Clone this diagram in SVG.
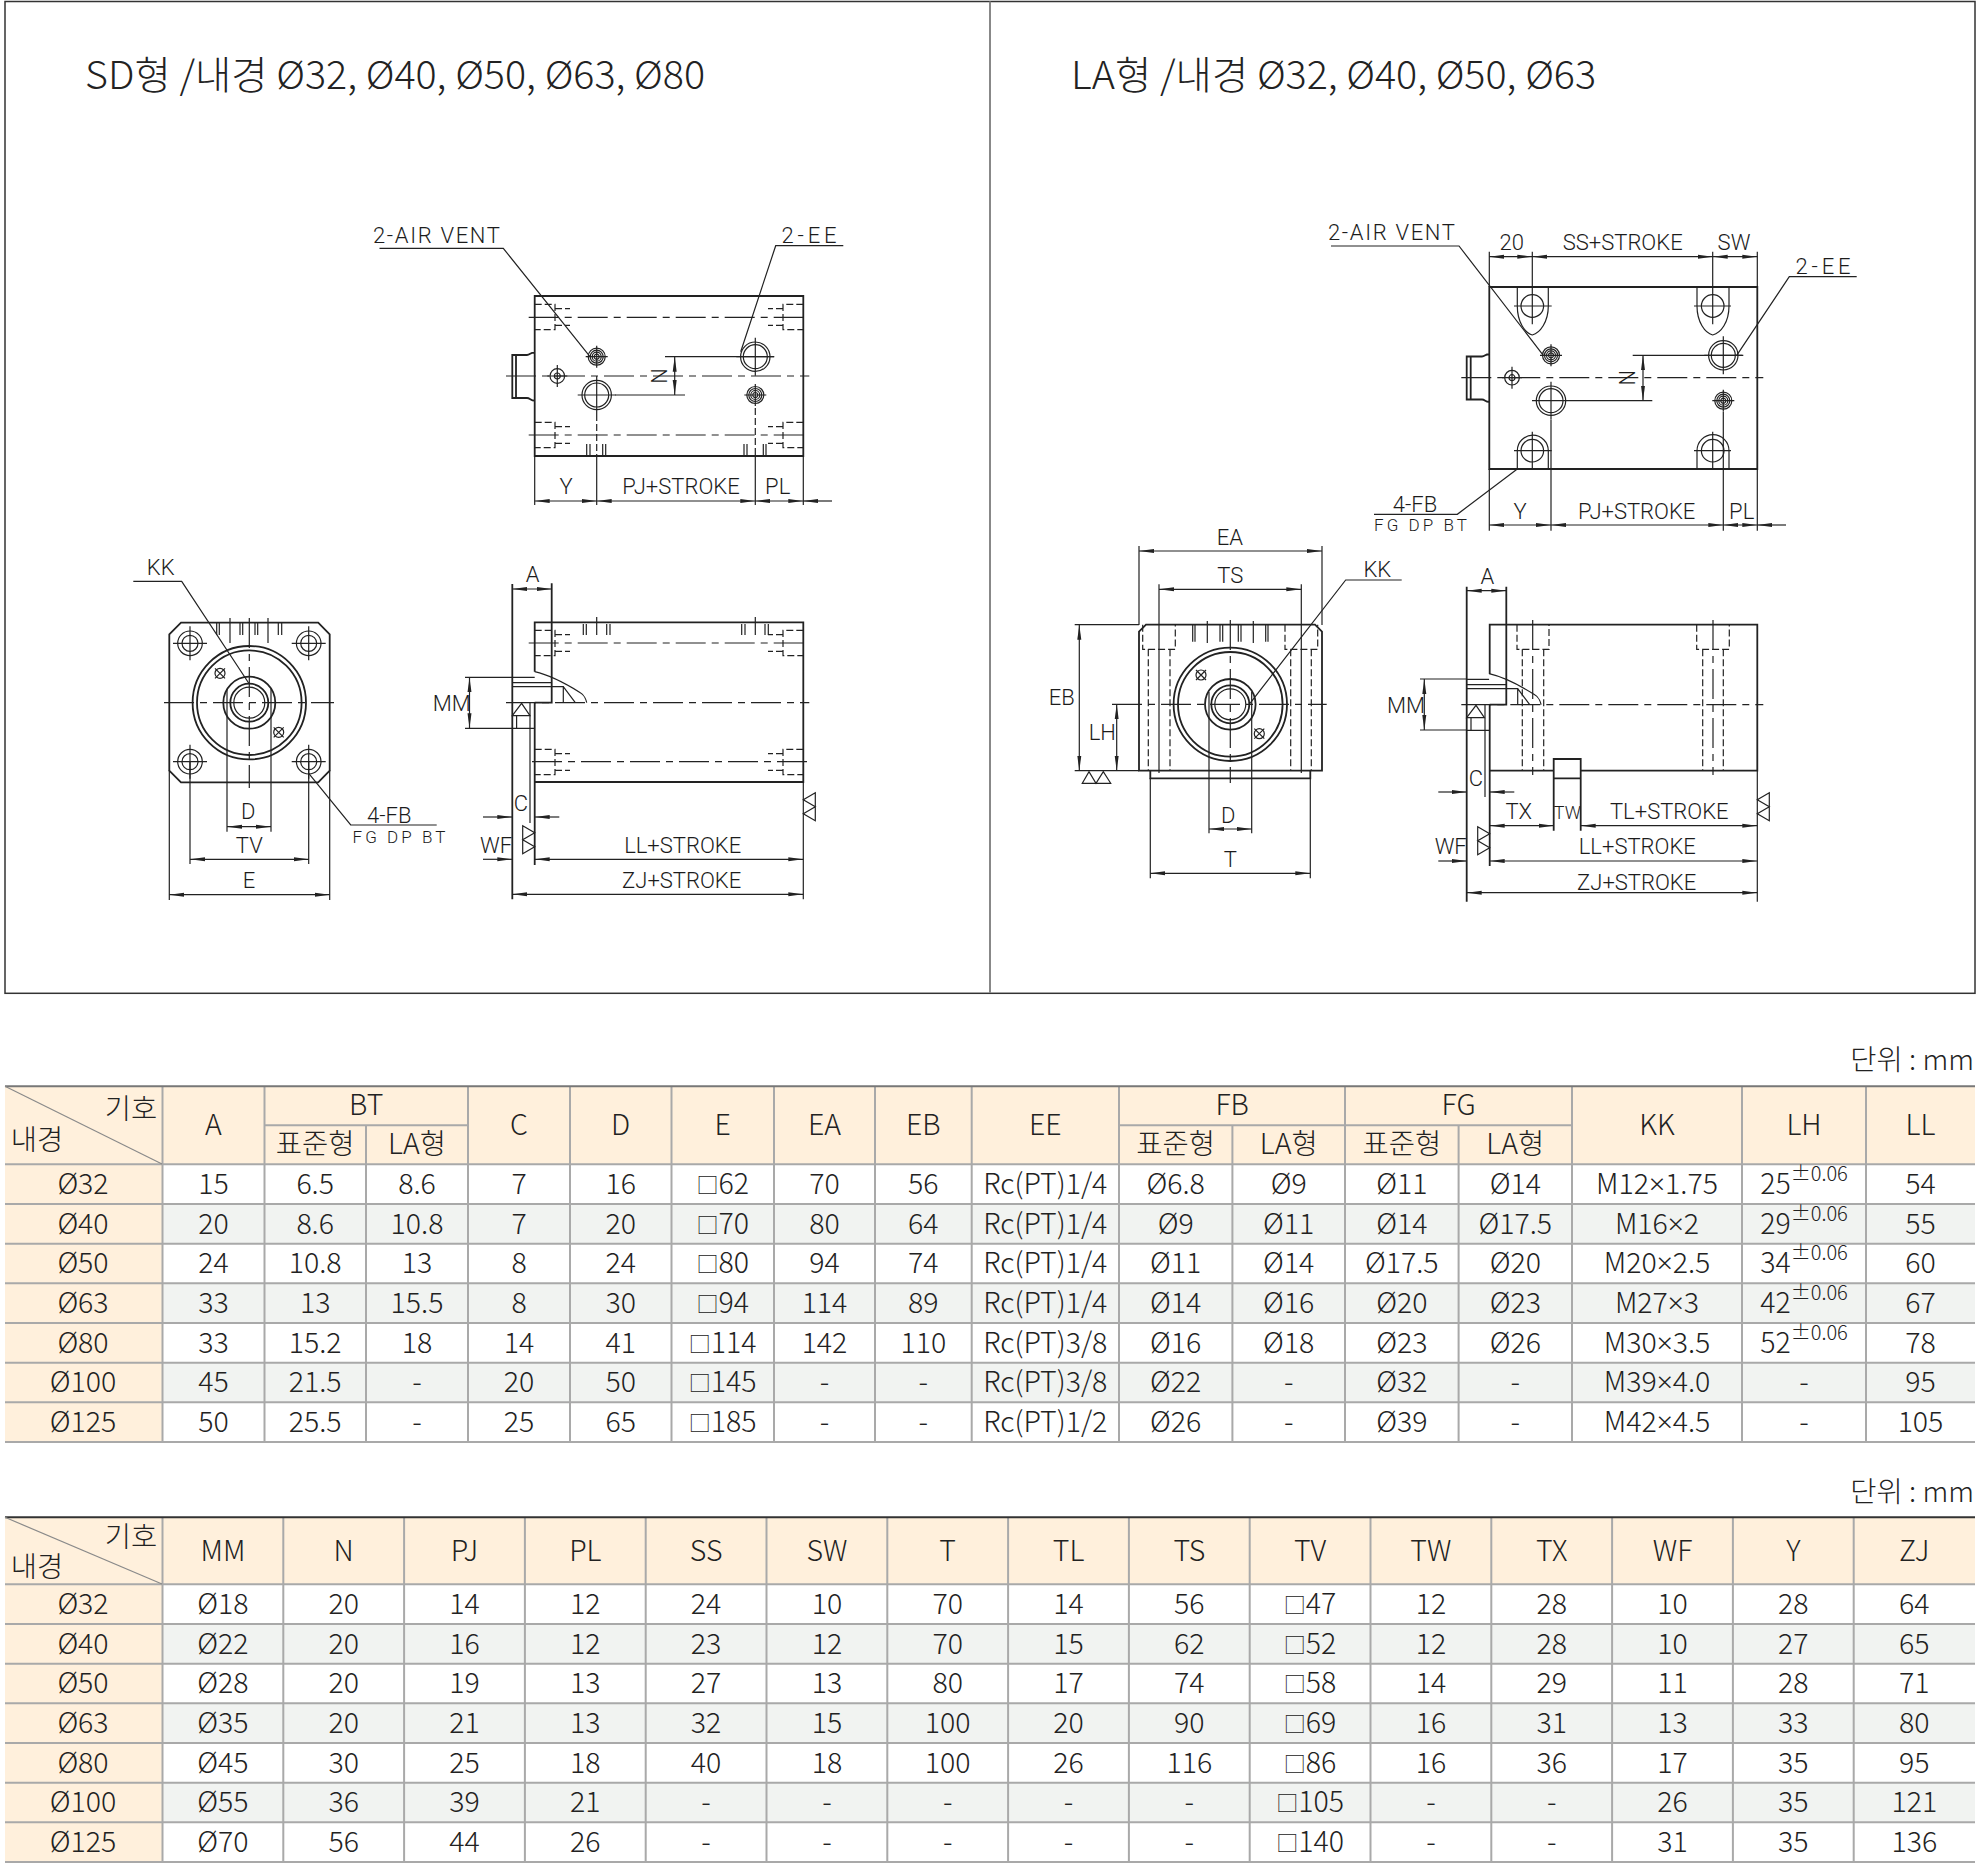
<svg xmlns="http://www.w3.org/2000/svg" width="1980" height="1867" viewBox="0 0 1980 1867">
<style>
text{font-family:"Noto Sans CJK KR","Noto Sans",sans-serif;fill:#222;font-weight:300}
.cad text,text.cad{font-family:Roboto,"Liberation Sans",sans-serif;font-size:22px;text-anchor:middle;fill:#1c1c1c;font-weight:300}
.tb text{font-size:28.5px;text-anchor:middle}
.sup{font-size:20px}
.x{font-family:"Noto Sans",sans-serif;font-size:28px}
.b{font-size:22px;baseline-shift:1px}
.cad path,.cad line,.cad circle,.sym path,.sym circle{fill:none;stroke:#222;stroke-width:1.2}
.o{stroke-width:1.8!important}
.d{stroke-dasharray:7 3}
.c{stroke-dasharray:30 6 7 6}
.arr{marker-start:url(#a);marker-end:url(#a)}
.arr1{marker-end:url(#a)}
.g{fill:none;stroke:#a9a9a9;stroke-width:2}
.hd{fill:#fff0dc}
.alt{fill:#f1f3f1}
.frame{fill:none;stroke:#333;stroke-width:1.5}
</style>
<defs>
<marker id="a" viewBox="0 0 15 6" refX="15" refY="3" markerWidth="15" markerHeight="6" markerUnits="userSpaceOnUse" orient="auto-start-reverse"><path d="M0,1 L15,3 L0,5z" fill="#222"/></marker>
<g class="sym">
<g id="vent"><circle r="8.5"/><circle r="6.5"/><circle r="4.5"/><circle r="2.5"/><path d="M-11,0H11M0,-11V11"/></g>
<g id="port"><circle r="14.7"/><circle r="12"/><path d="M-19,0H19M0,-19V19"/></g>
<g id="plug"><circle r="7.3"/><circle r="3"/><path d="M-10,0H10M0,-11V11"/></g>
<g id="hole"><circle r="12.3"/><circle r="8"/><path d="M-17,0H17M0,-17V17"/></g>
<g id="flat"><circle r="5"/><path d="M-5,-5L5,5M-5,5L5,-5"/></g>
<g id="bore"><path class="d" d="M0,-12.7H20.3V12.7H0M20.3,-8.3H35.3M20.3,8.3H35.3"/></g>
<g id="rod"><path d="M0,-25.4H22.4M0,-20H39.4M0,-16H51V0M22.4,-31C40,-27 60,-15 68,-10C72,-8 74,-2 74.4,0M51,-16L63,0M0,13L9.3,0.7L17.7,13ZM4.3,13V25.6M0,25.6H22.4"/></g>
<g id="mark"><path d="M12,0L0,7L12,14L0,21L12,28Z"/></g>
</g>
</defs>
<rect width="1980" height="1867" fill="#fff"/>

<g id="frame"><rect class="frame" x="5" y="1.5" width="1970" height="991.8"/><line x1="990" y1="1.5" x2="990" y2="993" stroke="#888" stroke-width="2"/></g>

<g id="titles">
<text x="85" y="88.5" font-size="39" textLength="620" lengthAdjust="spacingAndGlyphs">SD형 /내경 Ø32, Ø40, Ø50, Ø63, Ø80</text>
<text x="1071" y="88.5" font-size="39" textLength="525" lengthAdjust="spacingAndGlyphs">LA형 /내경 Ø32, Ø40, Ø50, Ø63</text>
</g>

<g id="sd-top" class="cad">
<path class="o" d="M534.7,296H803.3V456H534.7ZM534.7,352.7C531,352 530,355 527,355H512.3V398H527C530,398 531,401 534.7,400.7M516,355V398"/>
<path class="c" d="M528.7,317.3H809.3M528.7,435H809.3M506,376H809.3"/>
<use href="#bore" x="534.7" y="317"/><use href="#bore" transform="translate(803.3,317) scale(-1,1)"/>
<use href="#bore" x="534.7" y="435"/><use href="#bore" transform="translate(803.3,435) scale(-1,1)"/>
<use href="#plug" x="557.3" y="376"/><use href="#vent" x="596.7" y="356.7"/><use href="#port" x="596.7" y="395"/><use href="#port" x="755.3" y="356.7"/><use href="#vent" x="755.3" y="395"/>
<path d="M596.7,414V456M755.3,408V456" class="d"/>
<path d="M615,395H685M665,356.7H774M586.7,444V456M590,444V456M602.7,444V456M605.7,444V456M744,444V456M747,444V456M763.3,444V456M766,444V456"/>
<path d="M534.7,456V505M803.3,456V505M596.7,456V505M755.3,456V505"/>
<line class="arr" x1="534.7" y1="501" x2="596.7" y2="501"/><line class="arr" x1="596.7" y1="501" x2="755.3" y2="501"/><line class="arr" x1="755.3" y1="501" x2="803.3" y2="501"/><line class="arr1" x1="832" y1="501" x2="803.3" y2="501"/>
<line class="arr" x1="674.7" y1="356.7" x2="674.7" y2="395"/>
<path d="M379.5,248.3H503.3L590,356.7M843.3,245.7H775.7L740.7,351.7"/>
<text x="373" y="242.5" style="text-anchor:start" textLength="127">2-AIR VENT</text><text x="809" y="243" textLength="55">2-EE</text>
<text transform="translate(667,376) rotate(-90)">N</text>
<text x="566" y="494">Y</text><text x="681" y="494">PJ+STROKE</text><text x="777.7" y="494">PL</text>
</g>

<g id="sd-front" class="cad">
<path class="o" d="M181,622.7H318.2L329.7,634.3V770.7L318.2,782.3H181L169.3,770.7V634.3Z"/>
<circle class="o" cx="249.3" cy="702.7" r="56.7"/><circle class="o" cx="249.3" cy="702.7" r="52.3"/><circle class="o" cx="249.3" cy="702.7" r="26"/><circle class="o" cx="249.3" cy="702.7" r="19"/><circle cx="249.3" cy="702.7" r="15.5"/>
<path class="c" d="M164,702.7H334M249.3,618V788"/>
<use href="#hole" x="190" y="643.3"/><use href="#hole" x="308.7" y="643.3"/><use href="#hole" x="190" y="761.7"/><use href="#hole" x="308.7" y="761.7"/>
<use href="#flat" x="220" y="673.3"/><use href="#flat" x="278.7" y="732.3"/>
<path d="M216.7,623V635M219.3,623V635M240,623V635M242.7,623V635M255,623V635M257.7,623V635M278.3,623V635M281.7,623V635M230,618V643M268,618V643"/>
<path d="M227,689V831.7M271,689V831.7M190,761.7V864M308.7,761.7V864M169.3,770V900M329.7,770V900"/>
<line class="arr" x1="227" y1="826.7" x2="271" y2="826.7"/><line class="arr" x1="190" y1="859.3" x2="308.7" y2="859.3"/><line class="arr" x1="169.3" y1="894.7" x2="329.7" y2="894.7"/>
<path d="M133.3,581.3H181.7L249.3,684M308.7,773.3L350.7,825H436.7"/>
<text x="160.7" y="575">KK</text><text x="389.3" y="822.5">4-FB</text><text x="352.5" y="842.5" style="font-size:17px;text-anchor:start" textLength="93">FG DP BT</text>
<text x="248.3" y="819">D</text><text x="249.3" y="853">TV</text><text x="249" y="888">E</text>
</g>

<g id="sd-side" class="cad">
<path class="o" d="M534.7,671.7V622.3H803.3V782H534.7M534.7,702.7V865M551.7,583.3V702.7H534.7"/>
<path class="c" d="M506,702.7H809.3M528.7,643H809.3M532,761.7H809.3"/>
<use href="#bore" x="534.7" y="643"/><use href="#bore" transform="translate(803.3,643) scale(-1,1)"/><use href="#bore" x="534.7" y="762"/><use href="#bore" transform="translate(803.3,762) scale(-1,1)"/>
<use href="#rod" x="512.3" y="702.7"/>
<path class="o" d="M512.3,584V899.3"/>
<path d="M530,703V823M803.3,782V899.3M465,677.3H512.3M465,728.3H512.3M596.7,617V635M755.3,617V635M583.3,624V635M586.3,624V635M606.7,624V635M610,624V635M741.7,624V635M745,624V635M765,624V635M768.3,624V635"/>
<line class="arr" x1="512.3" y1="589" x2="551.7" y2="589"/>
<line class="arr" x1="469.5" y1="677.3" x2="469.5" y2="728.3"/>
<line class="arr1" x1="483" y1="817" x2="512.3" y2="817"/><line class="arr1" x1="559.3" y1="817" x2="534.7" y2="817"/>
<line class="arr1" x1="483" y1="859.3" x2="512.3" y2="859.3"/>
<line class="arr" x1="534.7" y1="859.3" x2="803.3" y2="859.3"/><line class="arr" x1="512.3" y1="894.3" x2="803.3" y2="894.3"/>
<use href="#mark" x="803.3" y="792.7"/><use href="#mark" transform="translate(534.7,825.7) scale(-1,1)"/>
<text x="532.7" y="581.7">A</text><text x="451.7" y="711">MM</text><text x="521" y="810.7">C</text><text x="496" y="852.7">WF</text><text x="682.7" y="852.7">LL+STROKE</text><text x="681.7" y="888.3">ZJ+STROKE</text>
</g>

<g id="la-top" class="cad">
<path class="o" d="M1489.3,287H1757.3V469H1489.3ZM1489.3,354.3C1486,353.7 1485,356.5 1482,356.5H1466.7V399.5H1482C1485,399.5 1486,402.3 1489.3,401.7M1470.7,356.5V399.5"/>
<path class="c" d="M1461.3,377.7H1763.3"/>
<path d="M1517.3,287V306C1517.3,322 1525,333 1532.3,335C1540,333 1548.3,322 1548.3,306V287M1697,287V306C1697,322 1705,333 1712.7,335C1721,333 1729,322 1729,306V287"/>
<path d="M1517.3,469V450.7A15.5,15.5 0 0 1 1548.3,450.7V469M1697,469V450.7A16,16 0 0 1 1729,450.7V469"/>
<circle cx="1532.3" cy="306" r="11.3"/><circle cx="1712.7" cy="306" r="11.3"/><circle cx="1532.3" cy="450.7" r="11.3"/><circle cx="1712.7" cy="450.7" r="11.3"/>
<path d="M1514,306H1551.7M1532.3,251.7V324.3M1694,306H1731M1712.7,251.7V324.3M1514,450.7H1551.7M1532.3,431.7V469M1694,450.7H1731M1712.7,431.7V469"/>
<use href="#plug" x="1512" y="377.7"/><use href="#vent" x="1551" y="355.3"/><use href="#port" x="1551" y="400.7"/><use href="#port" x="1723.3" y="355.3"/><use href="#vent" x="1723.3" y="400.7"/>
<path d="M1632.7,355.3H1743.3M1570,400.7H1652.3M1551,420V530.7M1723.3,412V530.7M1489.3,469V530.7M1757.3,469V530.7M1489.3,251.7V287M1757.3,251.7V287"/>
<line class="arr" x1="1489.3" y1="256.7" x2="1532.3" y2="256.7"/><line class="arr" x1="1532.3" y1="256.7" x2="1712.7" y2="256.7"/><line class="arr" x1="1712.7" y1="256.7" x2="1757.3" y2="256.7"/>
<line class="arr" x1="1489.3" y1="525" x2="1551" y2="525"/><line class="arr" x1="1551" y1="525" x2="1723.3" y2="525"/><line class="arr" x1="1723.3" y1="525" x2="1757.3" y2="525"/><line class="arr1" x1="1786" y1="525" x2="1757.3" y2="525"/>
<line class="arr" x1="1643" y1="355.3" x2="1643" y2="400.7"/>
<path d="M1331,246H1459L1543.3,355.3M1856.7,276.7H1789.3L1736.7,355.3M1374,514.3H1457.3L1517.3,469"/>
<text x="1328" y="239.5" style="text-anchor:start" textLength="127">2-AIR VENT</text><text x="1823" y="273.5" textLength="55">2-EE</text><text x="1415" y="512">4-FB</text><text x="1374" y="531" style="font-size:17px;text-anchor:start" textLength="93">FG DP BT</text>
<text x="1511.7" y="250">20</text><text x="1622.7" y="250">SS+STROKE</text><text x="1734" y="250">SW</text>
<text transform="translate(1635,377.7) rotate(-90)">N</text>
<text x="1520" y="519.3">Y</text><text x="1636.7" y="519.3">PJ+STROKE</text><text x="1741.7" y="519.3">PL</text>
</g>

<g id="la-front" class="cad">
<path class="o" d="M1146,624.7H1315L1322,631.7V770.7H1139V631.7ZM1150.3,770.7V778.3H1310.3V770.7"/>
<circle class="o" cx="1230.3" cy="704.3" r="56.7"/><circle class="o" cx="1230.3" cy="704.3" r="52.3"/><circle class="o" cx="1230.3" cy="704.3" r="25.3"/><circle class="o" cx="1230.3" cy="704.3" r="19"/><circle cx="1230.3" cy="704.3" r="15.5"/>
<path class="c" d="M1112,704.3H1326.7M1230.3,620V783"/>
<path class="d" d="M1142.7,624.7V649.3H1175.3V624.7M1285,624.7V649.3H1317.7V624.7M1148.3,649.3V770.7M1170,649.3V770.7M1290.7,649.3V770.7M1311.3,649.3V770.7"/>
<use href="#flat" x="1201" y="675"/><use href="#flat" x="1259.3" y="733.7"/>
<path d="M1192.7,625V641.7M1195,625V641.7M1220,625V641.7M1222.7,625V641.7M1238.3,625V641.7M1241,625V641.7M1265.7,625V641.7M1268,625V641.7M1207.3,621V643M1253.3,621V643"/>
<path d="M1139,546V625M1322,546V625M1159,584.3V773M1301.3,584.3V773M1074.7,624.7H1139M1074.7,770.7H1139M1209,692V833.3M1251.7,692V833.3M1150.3,778V878.3M1310.3,778V878.3"/>
<line class="arr" x1="1139" y1="551" x2="1322" y2="551"/><line class="arr" x1="1159" y1="589.3" x2="1301.3" y2="589.3"/><line class="arr" x1="1079.3" y1="624.7" x2="1079.3" y2="770.7"/><line class="arr" x1="1116.7" y1="704.3" x2="1116.7" y2="770.7"/><line class="arr" x1="1209" y1="829" x2="1251.7" y2="829"/><line class="arr" x1="1150.3" y1="873.3" x2="1310.3" y2="873.3"/>
<path d="M1082.3,783.3L1089,771.7L1096,783.3L1103.3,771.7L1110.7,783.3Z"/>
<path d="M1401.7,580H1345.7L1250,703.3"/>
<text x="1230" y="545">EA</text><text x="1230.3" y="583.3">TS</text><text x="1061.7" y="705">EB</text><text x="1102.3" y="740">LH</text><text x="1228.3" y="822.7">D</text><text x="1230.3" y="867.3">T</text><text x="1377.3" y="576.7">KK</text>
</g>

<g id="la-side" class="cad">
<path class="o" d="M1489.7,674V624.7H1757.3V770.7H1580.7M1553.7,770.7H1489.7M1489.7,704.7V866M1506.3,586.7V704.7H1489.7"/>
<path class="c" d="M1461.3,704.7H1763.3M1532.7,620V775M1713,620V775"/>
<path class="d" d="M1517,624.7V649.3H1549V624.7M1696.7,624.7V649.3H1729.3V624.7M1522.3,649.3V770.7M1543.7,649.3V770.7M1702.7,649.3V770.7M1723.3,649.3V770.7"/>
<use href="#rod" x="1466.7" y="704.7"/>
<path class="o" d="M1466.7,586.7V901.7M1553.7,830.7V759H1580.7V830.7M1553.7,778.3H1580.7"/>
<path d="M1485,704.7V797M1757.3,770.7V901.7M1420,679H1466.7M1420,730H1466.7"/>
<line class="arr" x1="1466.7" y1="590.7" x2="1506.3" y2="590.7"/><line class="arr" x1="1424.3" y1="679" x2="1424.3" y2="730"/>
<line class="arr1" x1="1438.3" y1="792" x2="1466.7" y2="792"/><line class="arr1" x1="1514.3" y1="792" x2="1489.7" y2="792"/>
<line class="arr" x1="1489.7" y1="825.7" x2="1553.7" y2="825.7"/><line class="arr" x1="1580.7" y1="825.7" x2="1757.3" y2="825.7"/>
<line class="arr1" x1="1438.3" y1="861" x2="1466.7" y2="861"/><line class="arr" x1="1489.7" y1="861" x2="1757.3" y2="861"/><line class="arr" x1="1466.7" y1="892.7" x2="1757.3" y2="892.7"/>
<use href="#mark" x="1757.3" y="792.7"/><use href="#mark" transform="translate(1489.7,826.7) scale(-1,1)"/>
<text x="1487.3" y="584">A</text><text x="1406" y="712.7">MM</text><text x="1476" y="785.7">C</text><text x="1518.7" y="819">TX</text><text x="1567.3" y="819" style="font-size:18px">TW</text><text x="1669.3" y="819">TL+STROKE</text><text x="1450.7" y="854">WF</text><text x="1637.3" y="854">LL+STROKE</text><text x="1636.7" y="890">ZJ+STROKE</text>
</g>

<g id="table-1">
<text x="1974" y="1070" font-size="28.5" text-anchor="end">단위 : mm</text>
<rect class="hd" x="5" y="1086.3" width="1970" height="78"/>
<rect class="hd" x="5" y="1164.3" width="157.5" height="277.7"/>
<rect class="alt" x="162.5" y="1204" width="1812.5" height="39.7"/><rect class="alt" x="162.5" y="1283.3" width="1812.5" height="39.7"/><rect class="alt" x="162.5" y="1362.7" width="1812.5" height="39.7"/>
<path class="g" d="M5,1164.3H1975M5,1204H1975M5,1243.7H1975M5,1283.3H1975M5,1323H1975M5,1362.7H1975M5,1402.3H1975M5,1442H1975M264.5,1125.3H468M1119,1125.3H1572"/>
<path class="g" d="M162.5,1086.3V1442M264.5,1086.3V1442M366,1125.3V1442M468,1086.3V1442M570,1086.3V1442M671.5,1086.3V1442M774,1086.3V1442M875,1086.3V1442M971.7,1086.3V1442M1119,1086.3V1442M1232.4,1125.3V1442M1345,1086.3V1442M1458.6,1125.3V1442M1572,1086.3V1442M1742,1086.3V1442M1866,1086.3V1442"/>
<path d="M5,1086.3H1975" stroke="#777" stroke-width="2" fill="none"/>
<path d="M5,1086.3L162,1164" stroke="#8a8a8a" stroke-width="1.2" fill="none"/>
<g class="tb">
<text x="131" y="1119">기호</text><text x="37" y="1150">내경</text>
<text x="213.5" y="1135">A</text><text x="366.2" y="1115">BT</text><text x="315.2" y="1154">표준형</text><text x="417" y="1154">LA형</text><text x="519" y="1135">C</text><text x="620.7" y="1135">D</text><text x="722.7" y="1135">E</text><text x="824.5" y="1135">EA</text><text x="923.3" y="1135">EB</text><text x="1045.3" y="1135">EE</text><text x="1232.2" y="1115">FB</text><text x="1175.7" y="1154">표준형</text><text x="1288.7" y="1154">LA형</text><text x="1458.6" y="1115">FG</text><text x="1401.8" y="1154">표준형</text><text x="1515.3" y="1154">LA형</text><text x="1657" y="1135">KK</text><text x="1804" y="1135">LH</text><text x="1920.5" y="1135">LL</text>
<g transform="translate(0,1194)"><text x="83">Ø32</text><text x="213.5">15</text><text x="315.2">6.5</text><text x="417">8.6</text><text x="519">7</text><text x="620.7">16</text><text x="722.7"><tspan class="b">□</tspan>62</text><text x="824.5">70</text><text x="923.3">56</text><text x="1045.3">Rc(PT)1/4</text><text x="1175.7">Ø6.8</text><text x="1288.7">Ø9</text><text x="1401.8">Ø11</text><text x="1515.3">Ø14</text><text x="1657">M12<tspan class="x">×</tspan>1.75</text><text x="1804">25<tspan class="sup" dy="-13">±0.06</tspan></text><text x="1920.5">54</text></g>
<g transform="translate(0,1233.5)"><text x="83">Ø40</text><text x="213.5">20</text><text x="315.2">8.6</text><text x="417">10.8</text><text x="519">7</text><text x="620.7">20</text><text x="722.7"><tspan class="b">□</tspan>70</text><text x="824.5">80</text><text x="923.3">64</text><text x="1045.3">Rc(PT)1/4</text><text x="1175.7">Ø9</text><text x="1288.7">Ø11</text><text x="1401.8">Ø14</text><text x="1515.3">Ø17.5</text><text x="1657">M16<tspan class="x">×</tspan>2</text><text x="1804">29<tspan class="sup" dy="-13">±0.06</tspan></text><text x="1920.5">55</text></g>
<g transform="translate(0,1273)"><text x="83">Ø50</text><text x="213.5">24</text><text x="315.2">10.8</text><text x="417">13</text><text x="519">8</text><text x="620.7">24</text><text x="722.7"><tspan class="b">□</tspan>80</text><text x="824.5">94</text><text x="923.3">74</text><text x="1045.3">Rc(PT)1/4</text><text x="1175.7">Ø11</text><text x="1288.7">Ø14</text><text x="1401.8">Ø17.5</text><text x="1515.3">Ø20</text><text x="1657">M20<tspan class="x">×</tspan>2.5</text><text x="1804">34<tspan class="sup" dy="-13">±0.06</tspan></text><text x="1920.5">60</text></g>
<g transform="translate(0,1313)"><text x="83">Ø63</text><text x="213.5">33</text><text x="315.2">13</text><text x="417">15.5</text><text x="519">8</text><text x="620.7">30</text><text x="722.7"><tspan class="b">□</tspan>94</text><text x="824.5">114</text><text x="923.3">89</text><text x="1045.3">Rc(PT)1/4</text><text x="1175.7">Ø14</text><text x="1288.7">Ø16</text><text x="1401.8">Ø20</text><text x="1515.3">Ø23</text><text x="1657">M27<tspan class="x">×</tspan>3</text><text x="1804">42<tspan class="sup" dy="-13">±0.06</tspan></text><text x="1920.5">67</text></g>
<g transform="translate(0,1352.5)"><text x="83">Ø80</text><text x="213.5">33</text><text x="315.2">15.2</text><text x="417">18</text><text x="519">14</text><text x="620.7">41</text><text x="722.7"><tspan class="b">□</tspan>114</text><text x="824.5">142</text><text x="923.3">110</text><text x="1045.3">Rc(PT)3/8</text><text x="1175.7">Ø16</text><text x="1288.7">Ø18</text><text x="1401.8">Ø23</text><text x="1515.3">Ø26</text><text x="1657">M30<tspan class="x">×</tspan>3.5</text><text x="1804">52<tspan class="sup" dy="-13">±0.06</tspan></text><text x="1920.5">78</text></g>
<g transform="translate(0,1392)"><text x="83">Ø100</text><text x="213.5">45</text><text x="315.2">21.5</text><text x="417">-</text><text x="519">20</text><text x="620.7">50</text><text x="722.7"><tspan class="b">□</tspan>145</text><text x="824.5">-</text><text x="923.3">-</text><text x="1045.3">Rc(PT)3/8</text><text x="1175.7">Ø22</text><text x="1288.7">-</text><text x="1401.8">Ø32</text><text x="1515.3">-</text><text x="1657">M39<tspan class="x">×</tspan>4.0</text><text x="1804">-</text><text x="1920.5">95</text></g>
<g transform="translate(0,1432)"><text x="83">Ø125</text><text x="213.5">50</text><text x="315.2">25.5</text><text x="417">-</text><text x="519">25</text><text x="620.7">65</text><text x="722.7"><tspan class="b">□</tspan>185</text><text x="824.5">-</text><text x="923.3">-</text><text x="1045.3">Rc(PT)1/2</text><text x="1175.7">Ø26</text><text x="1288.7">-</text><text x="1401.8">Ø39</text><text x="1515.3">-</text><text x="1657">M42<tspan class="x">×</tspan>4.5</text><text x="1804">-</text><text x="1920.5">105</text></g>
</g>
</g>

<g id="table-2">
<text x="1974" y="1502" font-size="28.5" text-anchor="end">단위 : mm</text>
<rect class="hd" x="5" y="1517.3" width="1970" height="67"/>
<rect class="hd" x="5" y="1584.3" width="157.5" height="277.7"/>
<rect class="alt" x="162.5" y="1624" width="1812.5" height="39.7"/><rect class="alt" x="162.5" y="1703.3" width="1812.5" height="39.7"/><rect class="alt" x="162.5" y="1782.7" width="1812.5" height="39.7"/>
<path class="g" d="M5,1584.3H1975M5,1624H1975M5,1663.7H1975M5,1703.3H1975M5,1743H1975M5,1782.7H1975M5,1822.3H1975M5,1862H1975"/>
<path class="g" d="M162.5,1517.3V1862M283.3,1517.3V1862M404.1,1517.3V1862M524.9,1517.3V1862M645.7,1517.3V1862M766.5,1517.3V1862M887.3,1517.3V1862M1008.1,1517.3V1862M1128.9,1517.3V1862M1249.7,1517.3V1862M1370.5,1517.3V1862M1491.3,1517.3V1862M1612.1,1517.3V1862M1732.9,1517.3V1862M1853.7,1517.3V1862"/>
<path d="M5,1517.3H1975" stroke="#333" stroke-width="2" fill="none"/>
<path d="M5,1517.3L162,1584" stroke="#8a8a8a" stroke-width="1.2" fill="none"/>
<g class="tb">
<text x="131" y="1546.5">기호</text><text x="37" y="1576.5">내경</text>
<text x="222.9" y="1560.5">MM</text><text x="343.7" y="1560.5">N</text><text x="464.5" y="1560.5">PJ</text><text x="585.3" y="1560.5">PL</text><text x="706.1" y="1560.5">SS</text><text x="826.9" y="1560.5">SW</text><text x="947.7" y="1560.5">T</text><text x="1068.5" y="1560.5">TL</text><text x="1189.3" y="1560.5">TS</text><text x="1310.1" y="1560.5">TV</text><text x="1430.9" y="1560.5">TW</text><text x="1551.7" y="1560.5">TX</text><text x="1672.5" y="1560.5">WF</text><text x="1793.3" y="1560.5">Y</text><text x="1914.3" y="1560.5">ZJ</text>
<g transform="translate(0,1613.5)"><text x="83">Ø32</text><text x="222.9">Ø18</text><text x="343.7">20</text><text x="464.5">14</text><text x="585.3">12</text><text x="706.1">24</text><text x="826.9">10</text><text x="947.7">70</text><text x="1068.5">14</text><text x="1189.3">56</text><text x="1310.1"><tspan class="b">□</tspan>47</text><text x="1430.9">12</text><text x="1551.7">28</text><text x="1672.5">10</text><text x="1793.3">28</text><text x="1914.3">64</text></g>
<g transform="translate(0,1653.5)"><text x="83">Ø40</text><text x="222.9">Ø22</text><text x="343.7">20</text><text x="464.5">16</text><text x="585.3">12</text><text x="706.1">23</text><text x="826.9">12</text><text x="947.7">70</text><text x="1068.5">15</text><text x="1189.3">62</text><text x="1310.1"><tspan class="b">□</tspan>52</text><text x="1430.9">12</text><text x="1551.7">28</text><text x="1672.5">10</text><text x="1793.3">27</text><text x="1914.3">65</text></g>
<g transform="translate(0,1693)"><text x="83">Ø50</text><text x="222.9">Ø28</text><text x="343.7">20</text><text x="464.5">19</text><text x="585.3">13</text><text x="706.1">27</text><text x="826.9">13</text><text x="947.7">80</text><text x="1068.5">17</text><text x="1189.3">74</text><text x="1310.1"><tspan class="b">□</tspan>58</text><text x="1430.9">14</text><text x="1551.7">29</text><text x="1672.5">11</text><text x="1793.3">28</text><text x="1914.3">71</text></g>
<g transform="translate(0,1732.5)"><text x="83">Ø63</text><text x="222.9">Ø35</text><text x="343.7">20</text><text x="464.5">21</text><text x="585.3">13</text><text x="706.1">32</text><text x="826.9">15</text><text x="947.7">100</text><text x="1068.5">20</text><text x="1189.3">90</text><text x="1310.1"><tspan class="b">□</tspan>69</text><text x="1430.9">16</text><text x="1551.7">31</text><text x="1672.5">13</text><text x="1793.3">33</text><text x="1914.3">80</text></g>
<g transform="translate(0,1772.5)"><text x="83">Ø80</text><text x="222.9">Ø45</text><text x="343.7">30</text><text x="464.5">25</text><text x="585.3">18</text><text x="706.1">40</text><text x="826.9">18</text><text x="947.7">100</text><text x="1068.5">26</text><text x="1189.3">116</text><text x="1310.1"><tspan class="b">□</tspan>86</text><text x="1430.9">16</text><text x="1551.7">36</text><text x="1672.5">17</text><text x="1793.3">35</text><text x="1914.3">95</text></g>
<g transform="translate(0,1812)"><text x="83">Ø100</text><text x="222.9">Ø55</text><text x="343.7">36</text><text x="464.5">39</text><text x="585.3">21</text><text x="706.1">-</text><text x="826.9">-</text><text x="947.7">-</text><text x="1068.5">-</text><text x="1189.3">-</text><text x="1310.1"><tspan class="b">□</tspan>105</text><text x="1430.9">-</text><text x="1551.7">-</text><text x="1672.5">26</text><text x="1793.3">35</text><text x="1914.3">121</text></g>
<g transform="translate(0,1851.5)"><text x="83">Ø125</text><text x="222.9">Ø70</text><text x="343.7">56</text><text x="464.5">44</text><text x="585.3">26</text><text x="706.1">-</text><text x="826.9">-</text><text x="947.7">-</text><text x="1068.5">-</text><text x="1189.3">-</text><text x="1310.1"><tspan class="b">□</tspan>140</text><text x="1430.9">-</text><text x="1551.7">-</text><text x="1672.5">31</text><text x="1793.3">35</text><text x="1914.3">136</text></g>
</g>
</g>
</svg>
